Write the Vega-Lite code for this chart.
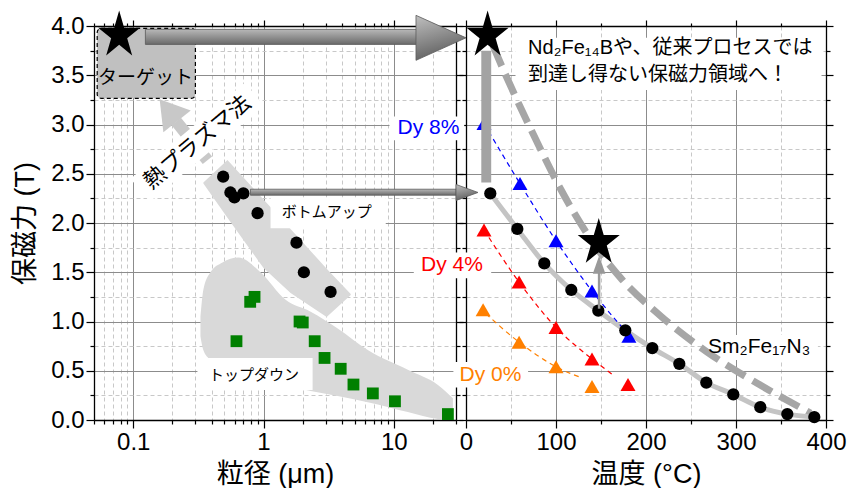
{
  "$schema": "https://vega.github.io/schema/vega-lite/v6.json",
  "padding": {"left": 11, "top": 10, "right": 5, "bottom": 5},
  "spacing": 10,
  "bounds": "flush",
  "config": {
    "font": "Liberation Sans, DejaVu Sans, Noto Sans CJK JP, sans-serif",
    "view": {"stroke": null},
    "axis": {
      "domainColor": "#000", "tickColor": "#000", "labelColor": "#000", "titleColor": "#000",
      "labelFontSize": 24, "titleFontSize": 27, "titleFontWeight": "normal",
      "labelOverlap": false, "labelBound": false, "labelFlush": false,
      "tickWidth": 1.2, "domainWidth": 1.3, "gridWidth": 1
    }
  },
  "datasets": {
    "band": [
      {"d": 0.3455, "hi": 2.41, "lo": 2.4},
      {"d": 0.5286, "hi": 2.64, "lo": 2.053},
      {"d": 1.0, "hi": 2.239, "lo": 1.543},
      {"d": 1.613, "hi": 1.939, "lo": 1.289},
      {"d": 3.053, "hi": 1.536, "lo": 1.046},
      {"d": 4.67, "hi": 1.28, "lo": 1.27}
    ],
    "blob": [
      {"d": 0.328, "hi": 1.05, "lo": 0.85},
      {"d": 0.345, "hi": 1.32, "lo": 0.71},
      {"d": 0.391, "hi": 1.5, "lo": 0.61},
      {"d": 0.484, "hi": 1.6, "lo": 0.54},
      {"d": 0.642, "hi": 1.65, "lo": 0.49},
      {"d": 0.948, "hi": 1.5, "lo": 0.43},
      {"d": 1.477, "hi": 1.22, "lo": 0.355},
      {"d": 2.3, "hi": 1.1, "lo": 0.294},
      {"d": 3.71, "hi": 0.93, "lo": 0.243},
      {"d": 6.31, "hi": 0.71, "lo": 0.18},
      {"d": 12.8, "hi": 0.51, "lo": 0.08},
      {"d": 21.8, "hi": 0.355, "lo": 0.01},
      {"d": 28.4, "hi": 0.22, "lo": 0.0}
    ],
    "target": [{"d": 0.0529, "d2": 0.3, "hc": 3.266, "hc2": 3.976}],
    "lbg": [
      {"d": 1.132, "d2": 8.67, "hc": 1.947, "hc2": 2.262},
      {"d": 0.311, "d2": 2.38, "hc": 0.304, "hc2": 0.629}
    ],
    "plasmaShaft": [{"d": 0.371, "hc": 2.637}, {"d": 0.214, "hc": 3.03}],
    "plasmaBg": [{"d": 0.113, "hc": 2.333}, {"d": 0.853, "hc": 3.306}],
    "plasmaHead": [{"d": 0.186, "hc": 3.144}],
    "plasmaText": [{"d": 0.31, "hc": 2.82, "t": "熱プラズマ法"}],
    "targetText": [{"d": 0.124, "hc": 3.469, "t": "ターゲット"}],
    "smallText": [
      {"d": 3.05, "hc": 2.11, "t": "ボトムアップ"},
      {"d": 0.845, "hc": 0.456, "t": "トップダウン"}
    ],
    "bu": [
      {"d": 0.49, "hc": 2.47}, {"d": 0.557, "hc": 2.31}, {"d": 0.598, "hc": 2.26},
      {"d": 0.7, "hc": 2.3}, {"d": 0.9, "hc": 2.1}, {"d": 1.79, "hc": 1.8},
      {"d": 2.04, "hc": 1.5}, {"d": 3.27, "hc": 1.3}
    ],
    "td": [
      {"d": 0.62, "hc": 0.8}, {"d": 0.79, "hc": 1.2}, {"d": 0.853, "hc": 1.25},
      {"d": 1.89, "hc": 1.0}, {"d": 2.0, "hc": 0.99}, {"d": 2.47, "hc": 0.8},
      {"d": 2.94, "hc": 0.63}, {"d": 3.91, "hc": 0.52}, {"d": 4.9, "hc": 0.36},
      {"d": 6.9, "hc": 0.27}, {"d": 10.2, "hc": 0.19}, {"d": 26, "hc": 0.06}
    ],
    "leftShafts": [
      {"d": 0.124, "d2": 16.1, "hc": 3.813, "hc2": 3.966},
      {"d": 0.794, "d2": 30, "hc": 2.282, "hc2": 2.343}
    ],
    "starL": [{"d": 0.078, "hc": 3.905}],
    "rbg": [
      {"T": 55, "T2": 395, "hc": 3.35, "hc2": 3.88},
      {"T": 264, "T2": 391, "hc": 0.608, "hc2": 0.862},
      {"T": -85, "T2": -2, "hc": 2.84, "hc2": 3.08},
      {"T": -58, "T2": 28, "hc": 1.44, "hc2": 1.7},
      {"T": -14, "T2": 69, "hc": 0.33, "hc2": 0.59}
    ],
    "circ": [
      {"T": 27, "hc": 2.3}, {"T": 57, "hc": 1.94}, {"T": 87, "hc": 1.59},
      {"T": 117, "hc": 1.32}, {"T": 147, "hc": 1.11}, {"T": 177, "hc": 0.91},
      {"T": 207, "hc": 0.73}, {"T": 237, "hc": 0.57}, {"T": 267, "hc": 0.38},
      {"T": 297, "hc": 0.26}, {"T": 327, "hc": 0.13}, {"T": 357, "hc": 0.06},
      {"T": 387, "hc": 0.03}
    ],
    "dash": [
      {"T": 30, "hc": 3.8}, {"T": 37, "hc": 3.65}, {"T": 78, "hc": 2.84},
      {"T": 106, "hc": 2.33}, {"T": 139, "hc": 1.83}, {"T": 172, "hc": 1.44},
      {"T": 217, "hc": 1.05}, {"T": 268, "hc": 0.69}, {"T": 324, "hc": 0.37},
      {"T": 383, "hc": 0.07}
    ],
    "tri": [
      {"T": 20, "hc": 3.01, "s": "Dy 8%"}, {"T": 60, "hc": 2.4, "s": "Dy 8%"},
      {"T": 100, "hc": 1.82, "s": "Dy 8%"}, {"T": 140, "hc": 1.31, "s": "Dy 8%"},
      {"T": 181, "hc": 0.85, "s": "Dy 8%"},
      {"T": 20, "hc": 1.93, "s": "Dy 4%"}, {"T": 59, "hc": 1.4, "s": "Dy 4%"},
      {"T": 100, "hc": 0.94, "s": "Dy 4%"}, {"T": 140, "hc": 0.62, "s": "Dy 4%"},
      {"T": 180, "hc": 0.36, "s": "Dy 4%"},
      {"T": 19, "hc": 1.12, "s": "Dy 0%"}, {"T": 59, "hc": 0.79, "s": "Dy 0%"},
      {"T": 100, "hc": 0.54, "s": "Dy 0%"}, {"T": 140, "hc": 0.34, "s": "Dy 0%"}
    ],
    "fit": [
      {"T": 20, "hc": 3.01, "s": "Dy 8%"}, {"T": 60, "hc": 2.4, "s": "Dy 8%"},
      {"T": 100, "hc": 1.82, "s": "Dy 8%"}, {"T": 140, "hc": 1.31, "s": "Dy 8%"},
      {"T": 183, "hc": 0.84, "s": "Dy 8%"},
      {"T": 20, "hc": 1.93, "s": "Dy 4%"}, {"T": 59, "hc": 1.4, "s": "Dy 4%"},
      {"T": 100, "hc": 0.94, "s": "Dy 4%"}, {"T": 140, "hc": 0.62, "s": "Dy 4%"},
      {"T": 163, "hc": 0.46, "s": "Dy 4%"},
      {"T": 22, "hc": 1.08, "s": "Dy 0%"}, {"T": 59, "hc": 0.79, "s": "Dy 0%"},
      {"T": 100, "hc": 0.54, "s": "Dy 0%"}, {"T": 128, "hc": 0.43, "s": "Dy 0%"}
    ],
    "vshaft": [{"T": 17, "T2": 28, "hc": 2.41, "hc2": 3.75}],
    "vshaft2": [{"T": 146.5, "T2": 149.3, "hc": 1.13, "hc2": 1.5}],
    "vhead": [{"T": 147.9, "hc": 1.575}],
    "hheadBig": [{"T": -27.8, "hc": 3.88}],
    "hheadSmall": [{"T": 1.1, "hc": 2.31}],
    "starR": [{"T": 24, "hc": 3.905}, {"T": 147.5, "hc": 1.8}],
    "note": [
      {"T": 69, "hc": 3.773, "t": "Nd₂Fe₁₄Bや、従来プロセスでは"},
      {"T": 69, "hc": 3.499, "t": "到達し得ない保磁力領域へ！"}
    ],
    "smfe": [{"T": 269, "hc": 0.74, "t": "Sm₂Fe₁₇N₃"}],
    "dylab": [
      {"T": -41.7, "hc": 2.964, "s": "Dy 8%"},
      {"T": -15.6, "hc": 1.572, "s": "Dy 4%"},
      {"T": 27.2, "hc": 0.456, "s": "Dy 0%"}
    ]
  },
  "hconcat": [
    {
      "width": 362,
      "height": 394,
      "resolve": {"axis": {"x": "independent", "y": "independent"}},
      "layer": [
        {
          "data": {"name": "band"},
          "mark": {"type": "area", "color": "#d9d9d9", "opacity": 1},
          "encoding": {
            "x": {"field": "d", "type": "quantitative", "scale": {"type": "log", "domain": [0.05, 30], "nice": false},
              "axis": {"orient": "bottom",
                "values": [0.05,0.06,0.07,0.08,0.09,0.1,0.2,0.3,0.4,0.5,0.6,0.7,0.8,0.9,1,2,3,4,5,6,7,8,9,10,20,30],
                "labelExpr": "datum.value==0.1?'0.1':datum.value==1?'1':datum.value==10?'10':''",
                "tickSize": {"condition": {"test": "datum.value==0.1||datum.value==1||datum.value==10", "value": 8}, "value": 4},
                "grid": true,
                "gridColor": {"condition": {"test": "datum.value==0.1||datum.value==1||datum.value==10", "value": "#8c8c8c"}, "value": "#c8c8c8"},
                "gridDash": {"condition": {"test": "datum.value==0.1||datum.value==1||datum.value==10", "value": []}, "value": [4, 3]},
                "title": "粒径 (μm)", "titlePadding": 7, "labelPadding": 2}},
            "y": {"field": "hi", "type": "quantitative", "scale": {"domain": [0, 4], "nice": false},
              "axis": {"orient": "left",
                "values": [0,0.25,0.5,0.75,1,1.25,1.5,1.75,2,2.25,2.5,2.75,3,3.25,3.5,3.75,4],
                "labelExpr": "datum.value%0.5==0?format(datum.value,'.1f'):''",
                "tickSize": {"condition": {"test": "datum.value%0.5==0", "value": 8}, "value": 4},
                "grid": true,
                "gridColor": {"condition": {"test": "datum.value%0.5==0", "value": "#8c8c8c"}, "value": "#c8c8c8"},
                "gridDash": {"condition": {"test": "datum.value%0.5==0", "value": []}, "value": [4, 3]},
                "title": "保磁力 (T)", "titlePadding": 5, "labelPadding": 2, "minExtent": 50, "maxExtent": 50}},
            "y2": {"field": "lo"}
          }
        },
        {
          "data": {"name": "blob"},
          "mark": {"type": "area", "color": "#d9d9d9", "opacity": 1, "interpolate": "monotone"},
          "encoding": {
            "x": {"field": "d", "type": "quantitative", "scale": {"type": "log", "domain": [0.05, 30], "nice": false},
              "axis": {"orient": "top",
                "values": [0.05,0.06,0.07,0.08,0.09,0.1,0.2,0.3,0.4,0.5,0.6,0.7,0.8,0.9,1,2,3,4,5,6,7,8,9,10,20,30],
                "labels": false, "grid": false, "title": null,
                "tickSize": {"condition": {"test": "datum.value==0.1||datum.value==1||datum.value==10", "value": 6}, "value": 3}}},
            "y": {"field": "hi", "type": "quantitative", "scale": {"domain": [0, 4], "nice": false},
              "axis": {"orient": "right",
                "values": [0,0.25,0.5,0.75,1,1.25,1.5,1.75,2,2.25,2.5,2.75,3,3.25,3.5,3.75,4],
                "labels": false, "grid": false, "title": null,
                "tickSize": {"condition": {"test": "datum.value%0.5==0", "value": 7}, "value": 4}}},
            "y2": {"field": "lo"}
          }
        },
        {
          "data": {"name": "target"},
          "mark": {"type": "rect", "fill": "#c0c0c0", "stroke": "#000", "strokeWidth": 1.2, "strokeDash": [4, 3], "cornerRadius": 4},
          "encoding": {
            "x": {"field": "d", "type": "quantitative", "scale": {"type": "log", "domain": [0.05, 30], "nice": false}, "axis": null},
            "x2": {"field": "d2"},
            "y": {"field": "hc", "type": "quantitative", "scale": {"domain": [0, 4], "nice": false}, "axis": null},
            "y2": {"field": "hc2"}
          }
        },
        {
          "data": {"name": "lbg"},
          "mark": {"type": "rect", "fill": "#ffffff"},
          "encoding": {
            "x": {"field": "d", "type": "quantitative", "scale": {"type": "log", "domain": [0.05, 30], "nice": false}, "axis": null},
            "x2": {"field": "d2"},
            "y": {"field": "hc", "type": "quantitative", "scale": {"domain": [0, 4], "nice": false}, "axis": null},
            "y2": {"field": "hc2"}
          }
        },
        {
          "data": {"name": "plasmaShaft"},
          "mark": {"type": "line", "color": "#c8c8c8", "strokeWidth": 12, "strokeCap": "butt"},
          "encoding": {
            "x": {"field": "d", "type": "quantitative", "scale": {"type": "log", "domain": [0.05, 30], "nice": false}, "axis": null},
            "y": {"field": "hc", "type": "quantitative", "scale": {"domain": [0, 4], "nice": false}, "axis": null}
          }
        },
        {
          "data": {"name": "plasmaBg"},
          "mark": {"type": "line", "color": "#ffffff", "strokeWidth": 30, "strokeCap": "butt"},
          "encoding": {
            "x": {"field": "d", "type": "quantitative", "scale": {"type": "log", "domain": [0.05, 30], "nice": false}, "axis": null},
            "y": {"field": "hc", "type": "quantitative", "scale": {"domain": [0, 4], "nice": false}, "axis": null}
          }
        },
        {
          "data": {"name": "plasmaHead"},
          "mark": {"type": "point", "shape": "M-0.8,-1L0.8,0L-0.8,1Z", "size": 1225, "angle": 231.5, "filled": true, "color": "#c8c8c8", "opacity": 1},
          "encoding": {
            "x": {"field": "d", "type": "quantitative", "scale": {"type": "log", "domain": [0.05, 30], "nice": false}, "axis": null},
            "y": {"field": "hc", "type": "quantitative", "scale": {"domain": [0, 4], "nice": false}, "axis": null}
          }
        },
        {
          "data": {"name": "plasmaText"},
          "mark": {"type": "text", "fontSize": 22, "angle": 320, "color": "#000", "align": "center", "baseline": "middle"},
          "encoding": {
            "x": {"field": "d", "type": "quantitative", "scale": {"type": "log", "domain": [0.05, 30], "nice": false}, "axis": null},
            "y": {"field": "hc", "type": "quantitative", "scale": {"domain": [0, 4], "nice": false}, "axis": null},
            "text": {"field": "t"}
          }
        },
        {
          "data": {"name": "targetText"},
          "mark": {"type": "text", "fontSize": 19, "color": "#000", "align": "center", "baseline": "middle"},
          "encoding": {
            "x": {"field": "d", "type": "quantitative", "scale": {"type": "log", "domain": [0.05, 30], "nice": false}, "axis": null},
            "y": {"field": "hc", "type": "quantitative", "scale": {"domain": [0, 4], "nice": false}, "axis": null},
            "text": {"field": "t"}
          }
        },
        {
          "data": {"name": "smallText"},
          "mark": {"type": "text", "fontSize": 15, "color": "#000", "align": "center", "baseline": "middle"},
          "encoding": {
            "x": {"field": "d", "type": "quantitative", "scale": {"type": "log", "domain": [0.05, 30], "nice": false}, "axis": null},
            "y": {"field": "hc", "type": "quantitative", "scale": {"domain": [0, 4], "nice": false}, "axis": null},
            "text": {"field": "t"}
          }
        },
        {
          "data": {"name": "td"},
          "mark": {"type": "point", "shape": "square", "size": 140, "filled": true, "color": "#008000", "opacity": 1},
          "encoding": {
            "x": {"field": "d", "type": "quantitative", "scale": {"type": "log", "domain": [0.05, 30], "nice": false}, "axis": null},
            "y": {"field": "hc", "type": "quantitative", "scale": {"domain": [0, 4], "nice": false}, "axis": null}
          }
        },
        {
          "data": {"name": "bu"},
          "mark": {"type": "point", "shape": "circle", "size": 150, "filled": true, "color": "#000", "opacity": 1},
          "encoding": {
            "x": {"field": "d", "type": "quantitative", "scale": {"type": "log", "domain": [0.05, 30], "nice": false}, "axis": null},
            "y": {"field": "hc", "type": "quantitative", "scale": {"domain": [0, 4], "nice": false}, "axis": null}
          }
        },
        {
          "data": {"name": "leftShafts"},
          "mark": {"type": "rect", "stroke": "#5a5a5a", "strokeWidth": 0.8,
            "fill": {"gradient": "linear", "x1": 0, "y1": 0, "x2": 0, "y2": 1,
              "stops": [{"offset": 0, "color": "#b8b8b8"}, {"offset": 1, "color": "#6a6a6a"}]}},
          "encoding": {
            "x": {"field": "d", "type": "quantitative", "scale": {"type": "log", "domain": [0.05, 30], "nice": false}, "axis": null},
            "x2": {"field": "d2"},
            "y": {"field": "hc", "type": "quantitative", "scale": {"domain": [0, 4], "nice": false}, "axis": null},
            "y2": {"field": "hc2"}
          }
        },
        {
          "data": {"name": "starL"},
          "mark": {"type": "point", "shape": "M0,-1.12L0.2245,-0.346L0.951,-0.346L0.363,0.132L0.588,0.906L0,0.428L-0.588,0.906L-0.363,0.132L-0.951,-0.346L-0.2245,-0.346Z", "size": 1954, "filled": true, "color": "#000", "opacity": 1},
          "encoding": {
            "x": {"field": "d", "type": "quantitative", "scale": {"type": "log", "domain": [0.05, 30], "nice": false}, "axis": null},
            "y": {"field": "hc", "type": "quantitative", "scale": {"domain": [0, 4], "nice": false}, "axis": null}
          }
        }
      ]
    },
    {
      "width": 360,
      "height": 394,
      "resolve": {"axis": {"x": "independent", "y": "independent"}},
      "layer": [
        {
          "data": {"name": "rbg"},
          "mark": {"type": "rect", "fill": "#ffffff", "clip": false},
          "encoding": {
            "x": {"field": "T", "type": "quantitative", "scale": {"domain": [0, 400], "nice": false},
              "axis": {"orient": "bottom",
                "values": [0,50,100,150,200,250,300,350,400],
                "labelExpr": "datum.value%100==0?format(datum.value,'d'):''",
                "tickSize": {"condition": {"test": "datum.value%100==0", "value": 8}, "value": 4},
                "grid": true,
                "gridColor": {"condition": {"test": "datum.value%100==0", "value": "#8c8c8c"}, "value": "#c8c8c8"},
                "gridDash": {"condition": {"test": "datum.value%100==0", "value": []}, "value": [4, 3]},
                "title": "温度 (°C)", "titlePadding": 7, "labelPadding": 2}},
            "x2": {"field": "T2"},
            "y": {"field": "hc", "type": "quantitative", "scale": {"domain": [0, 4], "nice": false},
              "axis": {"orient": "left",
                "values": [0,0.25,0.5,0.75,1,1.25,1.5,1.75,2,2.25,2.5,2.75,3,3.25,3.5,3.75,4],
                "labels": false, "title": null,
                "tickSize": {"condition": {"test": "datum.value%0.5==0", "value": 7}, "value": 4},
                "grid": true,
                "gridColor": {"condition": {"test": "datum.value%0.5==0", "value": "#8c8c8c"}, "value": "#c8c8c8"},
                "gridDash": {"condition": {"test": "datum.value%0.5==0", "value": []}, "value": [4, 3]}}},
            "y2": {"field": "hc2"}
          }
        },
        {
          "data": {"name": "dash"},
          "mark": {"type": "line", "color": "#a6a6a6", "strokeWidth": 7, "strokeDash": [22, 9], "interpolate": "monotone"},
          "encoding": {
            "x": {"field": "T", "type": "quantitative", "scale": {"domain": [0, 400], "nice": false},
              "axis": {"orient": "top", "values": [0,50,100,150,200,250,300,350,400],
                "labels": false, "grid": false, "title": null,
                "tickSize": {"condition": {"test": "datum.value%100==0", "value": 6}, "value": 3}}},
            "y": {"field": "hc", "type": "quantitative", "scale": {"domain": [0, 4], "nice": false},
              "axis": {"orient": "right",
                "values": [0,0.25,0.5,0.75,1,1.25,1.5,1.75,2,2.25,2.5,2.75,3,3.25,3.5,3.75,4],
                "labels": false, "grid": false, "title": null,
                "tickSize": {"condition": {"test": "datum.value%0.5==0", "value": 7}, "value": 4}}}
          }
        },
        {
          "data": {"name": "circ"},
          "mark": {"type": "line", "color": "#c4c4c4", "strokeWidth": 5, "interpolate": "monotone"},
          "encoding": {
            "x": {"field": "T", "type": "quantitative", "scale": {"domain": [0, 400], "nice": false}, "axis": null},
            "y": {"field": "hc", "type": "quantitative", "scale": {"domain": [0, 4], "nice": false}, "axis": null}
          }
        },
        {
          "data": {"name": "fit"},
          "mark": {"type": "line", "strokeWidth": 1.2, "strokeDash": [5, 4], "interpolate": "monotone"},
          "encoding": {
            "x": {"field": "T", "type": "quantitative", "scale": {"domain": [0, 400], "nice": false}, "axis": null},
            "y": {"field": "hc", "type": "quantitative", "scale": {"domain": [0, 4], "nice": false}, "axis": null},
            "color": {"field": "s", "type": "nominal", "scale": {"domain": ["Dy 8%", "Dy 4%", "Dy 0%"], "range": ["#0000ff", "#ff0000", "#ff8000"]}, "legend": null}
          }
        },
        {
          "data": {"name": "tri"},
          "mark": {"type": "point", "shape": "triangle-up", "size": 225, "filled": true, "opacity": 1},
          "encoding": {
            "x": {"field": "T", "type": "quantitative", "scale": {"domain": [0, 400], "nice": false}, "axis": null},
            "y": {"field": "hc", "type": "quantitative", "scale": {"domain": [0, 4], "nice": false}, "axis": null},
            "color": {"field": "s", "type": "nominal", "scale": {"domain": ["Dy 8%", "Dy 4%", "Dy 0%"], "range": ["#0000ff", "#ff0000", "#ff8000"]}, "legend": null}
          }
        },
        {
          "data": {"name": "circ"},
          "mark": {"type": "point", "shape": "circle", "size": 150, "filled": true, "color": "#000", "opacity": 1},
          "encoding": {
            "x": {"field": "T", "type": "quantitative", "scale": {"domain": [0, 400], "nice": false}, "axis": null},
            "y": {"field": "hc", "type": "quantitative", "scale": {"domain": [0, 4], "nice": false}, "axis": null}
          }
        },
        {
          "data": {"name": "vshaft"},
          "mark": {"type": "rect", "fill": "#a3a3a3"},
          "encoding": {
            "x": {"field": "T", "type": "quantitative", "scale": {"domain": [0, 400], "nice": false}, "axis": null},
            "x2": {"field": "T2"},
            "y": {"field": "hc", "type": "quantitative", "scale": {"domain": [0, 4], "nice": false}, "axis": null},
            "y2": {"field": "hc2"}
          }
        },
        {
          "data": {"name": "vshaft2"},
          "mark": {"type": "rect", "fill": "#999999"},
          "encoding": {
            "x": {"field": "T", "type": "quantitative", "scale": {"domain": [0, 400], "nice": false}, "axis": null},
            "x2": {"field": "T2"},
            "y": {"field": "hc", "type": "quantitative", "scale": {"domain": [0, 4], "nice": false}, "axis": null},
            "y2": {"field": "hc2"}
          }
        },
        {
          "data": {"name": "vhead"},
          "mark": {"type": "point", "shape": "M-0.7,1L0,-1L0.7,1Z", "size": 324, "filled": true, "color": "#999999", "opacity": 1},
          "encoding": {
            "x": {"field": "T", "type": "quantitative", "scale": {"domain": [0, 400], "nice": false}, "axis": null},
            "y": {"field": "hc", "type": "quantitative", "scale": {"domain": [0, 4], "nice": false}, "axis": null}
          }
        },
        {
          "data": {"name": "hheadBig"},
          "mark": {"type": "point", "shape": "M-1,-0.9L1,0L-1,0.9Z", "size": 2500, "filled": true, "opacity": 1, "clip": false,
            "stroke": "#5a5a5a", "strokeWidth": 0.8,
            "fill": {"gradient": "linear", "x1": 0, "y1": 0, "x2": 0.3, "y2": 1,
              "stops": [{"offset": 0, "color": "#c0c0c0"}, {"offset": 1, "color": "#606060"}]}},
          "encoding": {
            "x": {"field": "T", "type": "quantitative", "scale": {"domain": [0, 400], "nice": false}, "axis": null},
            "y": {"field": "hc", "type": "quantitative", "scale": {"domain": [0, 4], "nice": false}, "axis": null}
          }
        },
        {
          "data": {"name": "hheadSmall"},
          "mark": {"type": "point", "shape": "M-1,-0.73L1,0L-1,0.73Z", "size": 484, "filled": true, "opacity": 1, "clip": false,
            "stroke": "#5a5a5a", "strokeWidth": 0.8,
            "fill": {"gradient": "linear", "x1": 0, "y1": 0, "x2": 0.3, "y2": 1,
              "stops": [{"offset": 0, "color": "#c0c0c0"}, {"offset": 1, "color": "#606060"}]}},
          "encoding": {
            "x": {"field": "T", "type": "quantitative", "scale": {"domain": [0, 400], "nice": false}, "axis": null},
            "y": {"field": "hc", "type": "quantitative", "scale": {"domain": [0, 4], "nice": false}, "axis": null}
          }
        },
        {
          "data": {"name": "starR"},
          "mark": {"type": "point", "shape": "M0,-1.12L0.2245,-0.346L0.951,-0.346L0.363,0.132L0.588,0.906L0,0.428L-0.588,0.906L-0.363,0.132L-0.951,-0.346L-0.2245,-0.346Z", "size": 1954, "filled": true, "color": "#000", "opacity": 1},
          "encoding": {
            "x": {"field": "T", "type": "quantitative", "scale": {"domain": [0, 400], "nice": false}, "axis": null},
            "y": {"field": "hc", "type": "quantitative", "scale": {"domain": [0, 4], "nice": false}, "axis": null}
          }
        },
        {
          "data": {"name": "note"},
          "mark": {"type": "text", "fontSize": 20, "color": "#000", "align": "left", "baseline": "middle"},
          "encoding": {
            "x": {"field": "T", "type": "quantitative", "scale": {"domain": [0, 400], "nice": false}, "axis": null},
            "y": {"field": "hc", "type": "quantitative", "scale": {"domain": [0, 4], "nice": false}, "axis": null},
            "text": {"field": "t"}
          }
        },
        {
          "data": {"name": "smfe"},
          "mark": {"type": "text", "fontSize": 21, "color": "#000", "align": "left", "baseline": "middle"},
          "encoding": {
            "x": {"field": "T", "type": "quantitative", "scale": {"domain": [0, 400], "nice": false}, "axis": null},
            "y": {"field": "hc", "type": "quantitative", "scale": {"domain": [0, 4], "nice": false}, "axis": null},
            "text": {"field": "t"}
          }
        },
        {
          "data": {"name": "dylab"},
          "mark": {"type": "text", "fontSize": 21, "align": "center", "baseline": "middle", "clip": false},
          "encoding": {
            "x": {"field": "T", "type": "quantitative", "scale": {"domain": [0, 400], "nice": false}, "axis": null},
            "y": {"field": "hc", "type": "quantitative", "scale": {"domain": [0, 4], "nice": false}, "axis": null},
            "text": {"field": "s"},
            "color": {"field": "s", "type": "nominal", "scale": {"domain": ["Dy 8%", "Dy 4%", "Dy 0%"], "range": ["#0000ff", "#ff0000", "#ff8000"]}, "legend": null}
          }
        }
      ]
    }
  ]
}
